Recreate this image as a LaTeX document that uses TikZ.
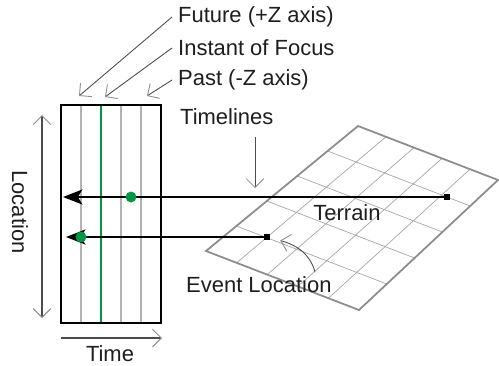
\documentclass[tikz,border=0pt]{standalone}
\usepackage{fontspec}
\setmainfont{Liberation Sans}
\usepackage{tikz}
\usetikzlibrary{arrows.meta, calc}
\usetikzlibrary{positioning}
\usepackage{xcolor}
\definecolor{focusgreen}{RGB}{0,150,70}
\definecolor{inkgray}{RGB}{30,30,30}

\begin{document}
\begin{tikzpicture}[x=0.02cm, y=-0.02cm,
		every node/.style={font=\fontsize{12.5pt}{15pt}\selectfont, text=inkgray},
		pointer/.style={draw=black!70, line width=0.5pt, -{Straight Barb[length=5pt, width=10pt, color=black!45]}},
		axisarrow/.style={draw=black!70, line width=0.6pt},
		timeline/.style={draw=black, line width=1.2pt, -{Stealth[length=11pt, width=8.5pt, inset=2.5pt]}},
		gridline/.style={draw=black!35, line width=0.4pt},
		gdot/.style={fill=focusgreen, circle, inner sep=2.2pt},
		endsq/.style={fill=black, rectangle, inner sep=1.5pt}]
		\useasboundingbox (0,0) rectangle (499,365);

		% terrain
		\begin{scope}
			\coordinate (tA) at (206,251); \coordinate (tB) at (358,126);
			\coordinate (tC) at (498,180); \coordinate (tD) at (359,310);
			\foreach \i in {1,...,4} {
				\draw[gridline] ($(tA)!\i/5!(tB)$) -- ($(tD)!\i/5!(tC)$);
				\draw[gridline] ($(tA)!\i/5!(tD)$) -- ($(tB)!\i/5!(tC)$);
			}
			\draw[draw=black!45, line width=1pt] (tA) -- (tB) -- (tC) -- (tD) -- cycle;
			\node (terrain) at (347,213) {Terrain};
		\end{scope}

		% time box
		\begin{scope}
			\foreach \x in {81,121,141} \draw[draw=black!30, line width=0.6pt] (\x,105) -- (\x,323);
			\draw[focusgreen, line width=1.2pt] (101,105) -- (101,323);
			\draw[line width=1.2pt] (61,105) rectangle (161,323);

			\coordinate (loctop) at (42,115); \coordinate (locbot) at (42,318);
			\draw[axisarrow, {Straight Barb[length=5pt, width=10pt, color=black!45]}-{Straight Barb[length=5pt, width=10pt, color=black!45]}] (loctop) -- (locbot);
			\node[rotate=-90] (location) at (20,212) {Location};

			\coordinate (tleft) at (61,338); \coordinate (tright) at (162,338);
			\draw[axisarrow, -{Straight Barb[length=5pt, width=10pt, color=black!45]}] (tleft) -- (tright);
			\node (time) at (110,354) {Time};
		\end{scope}

		% timelines
		\node[endsq] (far) at (447,197) {};
		\node[endsq] (evt) at (267,237) {};
		\coordinate (tip1) at (63,197); \coordinate (tip2) at (66,237);
		\draw[timeline] (far) -- (tip1);
		\draw[timeline] (evt) -- (tip2);
		\node[gdot] (dot1) at (131,197) {};
		\node[gdot] (dot2) at (81,237) {};

		% labels
		\node[anchor=west] (future) at (172,17) {Future (+Z axis)};
		\node[anchor=west] (instant) at (172,48) {Instant of Focus};
		\node[anchor=west] (past) at (172,80) {Past (-Z axis)};
		\node[anchor=west] (timelines) at (174,117) {Timelines};
		\node[anchor=west] (evloc) at (180,285) {Event Location};

		\coordinate (futtip) at (79,96); \coordinate (insttip) at (105,97);
		\coordinate (pasttip) at (147,96); \coordinate (tltip) at (255,188);
		\coordinate (evfoot) at (315,272);
		\draw[pointer] (future.west) -- (futtip);
		\draw[pointer] (instant.west) -- (insttip);
		\draw[pointer] (past.west) -- (pasttip);
		\draw[pointer, shorten <=3pt] (timelines.south -| tltip) -- (tltip);
		\draw[pointer, shorten >=6pt] (evfoot) to[out=105, in=-15] (evt);
	\end{tikzpicture}
\end{document}
